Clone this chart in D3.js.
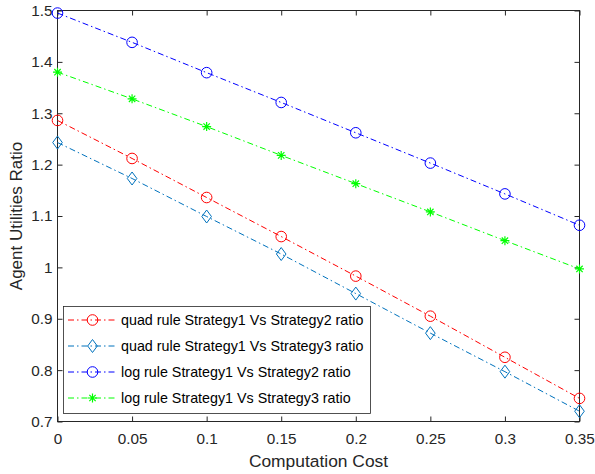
<!DOCTYPE html>
<html><head><meta charset="utf-8">
<script src="https://cdn.jsdelivr.net/npm/d3@7"></script>
<style>body{margin:0;background:#fff}svg{display:block}text{font-family:"Liberation Sans",Arial,sans-serif}</style>
</head><body><svg id="c" width="595" height="474"></svg>
<script>
const xValues = [0, 0.05, 0.1, 0.15, 0.2, 0.25, 0.3, 0.35];
const quadS2 = [1.286, 1.212, 1.136, 1.060, 0.983, 0.905, 0.825, 0.745];
const quadS3 = [1.243, 1.173, 1.099, 1.026, 0.949, 0.872, 0.797, 0.720];
const logS2 = [1.495, 1.438, 1.379, 1.321, 1.262, 1.203, 1.143, 1.082];
const logS3 = [1.380, 1.328, 1.274, 1.218, 1.163, 1.108, 1.052, 0.997];
const xTicks = [0, 0.05, 0.1, 0.15, 0.2, 0.25, 0.3, 0.35];
const xTickLabels = ["0", "0.05", "0.1", "0.15", "0.2", "0.25", "0.3", "0.35"];
const yTicks = [0.7, 0.8, 0.9, 1, 1.1, 1.2, 1.3, 1.4, 1.5];
const yTickLabels = ["0.7", "0.8", "0.9", "1", "1.1", "1.2", "1.3", "1.4", "1.5"];
const seriesNames = ["quad rule Strategy1 Vs Strategy2 ratio", "quad rule Strategy1 Vs Strategy3 ratio", "log rule Strategy1 Vs Strategy2 ratio", "log rule Strategy1 Vs Strategy3 ratio"];
const xLabel = "Computation Cost";
const yLabel = "Agent Utilities Ratio";

const series = [
  {name: seriesNames[0], values: quadS2, color: "#ff0000", marker: "circle"},
  {name: seriesNames[1], values: quadS3, color: "#0072bd", marker: "diamond"},
  {name: seriesNames[2], values: logS2, color: "#0000ff", marker: "circle"},
  {name: seriesNames[3], values: logS3, color: "#00ff00", marker: "star"}
];

const svg = d3.select("#c");
const L = 57.5, R = 579.5, T = 10.5, B = 421.5;
const x = d3.scaleLinear().domain([0, 0.35]).range([L, R]);
const y = d3.scaleLinear().domain([0.7, 1.5]).range([B, T]);
const axisColor = "#262626";
const fs = 15.3;

// box
svg.append("rect").attr("x", L).attr("y", T).attr("width", R - L).attr("height", B - T)
  .attr("fill", "none").attr("stroke", axisColor).attr("stroke-width", 1);

const tl = 5;
const xb = svg.append("g").attr("transform", `translate(0,${B})`)
  .call(d3.axisBottom(x).tickValues(xTicks).tickFormat((d, i) => xTickLabels[i]).tickSizeInner(-tl).tickSizeOuter(0).tickPadding(12));
const xt = svg.append("g").attr("transform", `translate(0,${T})`)
  .call(d3.axisTop(x).tickValues(xTicks).tickFormat("").tickSizeInner(-tl).tickSizeOuter(0));
const yl = svg.append("g").attr("transform", `translate(${L},0)`)
  .call(d3.axisLeft(y).tickValues(yTicks).tickFormat((d, i) => yTickLabels[i]).tickSizeInner(-tl).tickSizeOuter(0).tickPadding(5));
const yr = svg.append("g").attr("transform", `translate(${R},0)`)
  .call(d3.axisRight(y).tickValues(yTicks).tickFormat("").tickSizeInner(-tl).tickSizeOuter(0));
[xb, xt, yl, yr].forEach(g => {
  g.select(".domain").remove();
  g.selectAll("line").attr("stroke", axisColor);
  g.selectAll("text").attr("fill", axisColor).attr("font-size", fs).attr("font-family", "Liberation Sans, Arial, sans-serif");
});

svg.append("text").attr("x", (L + R) / 2).attr("y", 467).attr("text-anchor", "middle")
  .attr("font-size", 17.4).attr("fill", axisColor).text(xLabel);
svg.append("text").attr("transform", `translate(21.5,${(T + B) / 2}) rotate(-90)`).attr("text-anchor", "middle")
  .attr("font-size", 17).attr("fill", axisColor).text(yLabel);

const dash = "6,3,1.5,3";
function drawMarker(g, type, cx, cy, color) {
  if (type === "circle") {
    g.append("circle").attr("cx", cx).attr("cy", cy).attr("r", 5.3).attr("fill", "none").attr("stroke", color).attr("stroke-width", 1);
  } else if (type === "diamond") {
    g.append("path").attr("d", `M${cx},${cy - 6.5}L${cx + 4.8},${cy}L${cx},${cy + 6.5}L${cx - 4.8},${cy}Z`)
      .attr("fill", "none").attr("stroke", color).attr("stroke-width", 1);
  } else {
    const r = 4.5, d = r * 0.707;
    g.append("path").attr("d", `M${cx - r},${cy}H${cx + r}M${cx},${cy - r}V${cy + r}M${cx - d},${cy - d}L${cx + d},${cy + d}M${cx - d},${cy + d}L${cx + d},${cy - d}`)
      .attr("fill", "none").attr("stroke", color).attr("stroke-width", 1.2);
  }
}

const line = d3.line().x((d, i) => x(xValues[i])).y(d => y(d));
series.forEach(s => {
  const g = svg.append("g");
  g.append("path").attr("d", line(s.values)).attr("fill", "none").attr("stroke", s.color)
    .attr("stroke-width", 1).attr("stroke-dasharray", dash);
  s.values.forEach((v, i) => drawMarker(g, s.marker, x(xValues[i]), y(v), s.color));
});

// legend
const lg = svg.append("g");
lg.append("rect").attr("x", 63.5).attr("y", 306.5).attr("width", 307).attr("height", 107)
  .attr("fill", "#fff").attr("stroke", axisColor).attr("stroke-width", 0.8);
series.forEach((s, i) => {
  const yy = 320 + i * 26;
  lg.append("line").attr("x1", 68).attr("x2", 117).attr("y1", yy).attr("y2", yy)
    .attr("stroke", s.color).attr("stroke-width", 1).attr("stroke-dasharray", dash);
  drawMarker(lg, s.marker, 92.5, yy, s.color);
  lg.append("text").attr("x", 121).attr("y", yy).attr("dy", "0.35em").attr("font-size", 14.3)
    .attr("fill", "#000").text(s.name);
});
</script></body></html>
